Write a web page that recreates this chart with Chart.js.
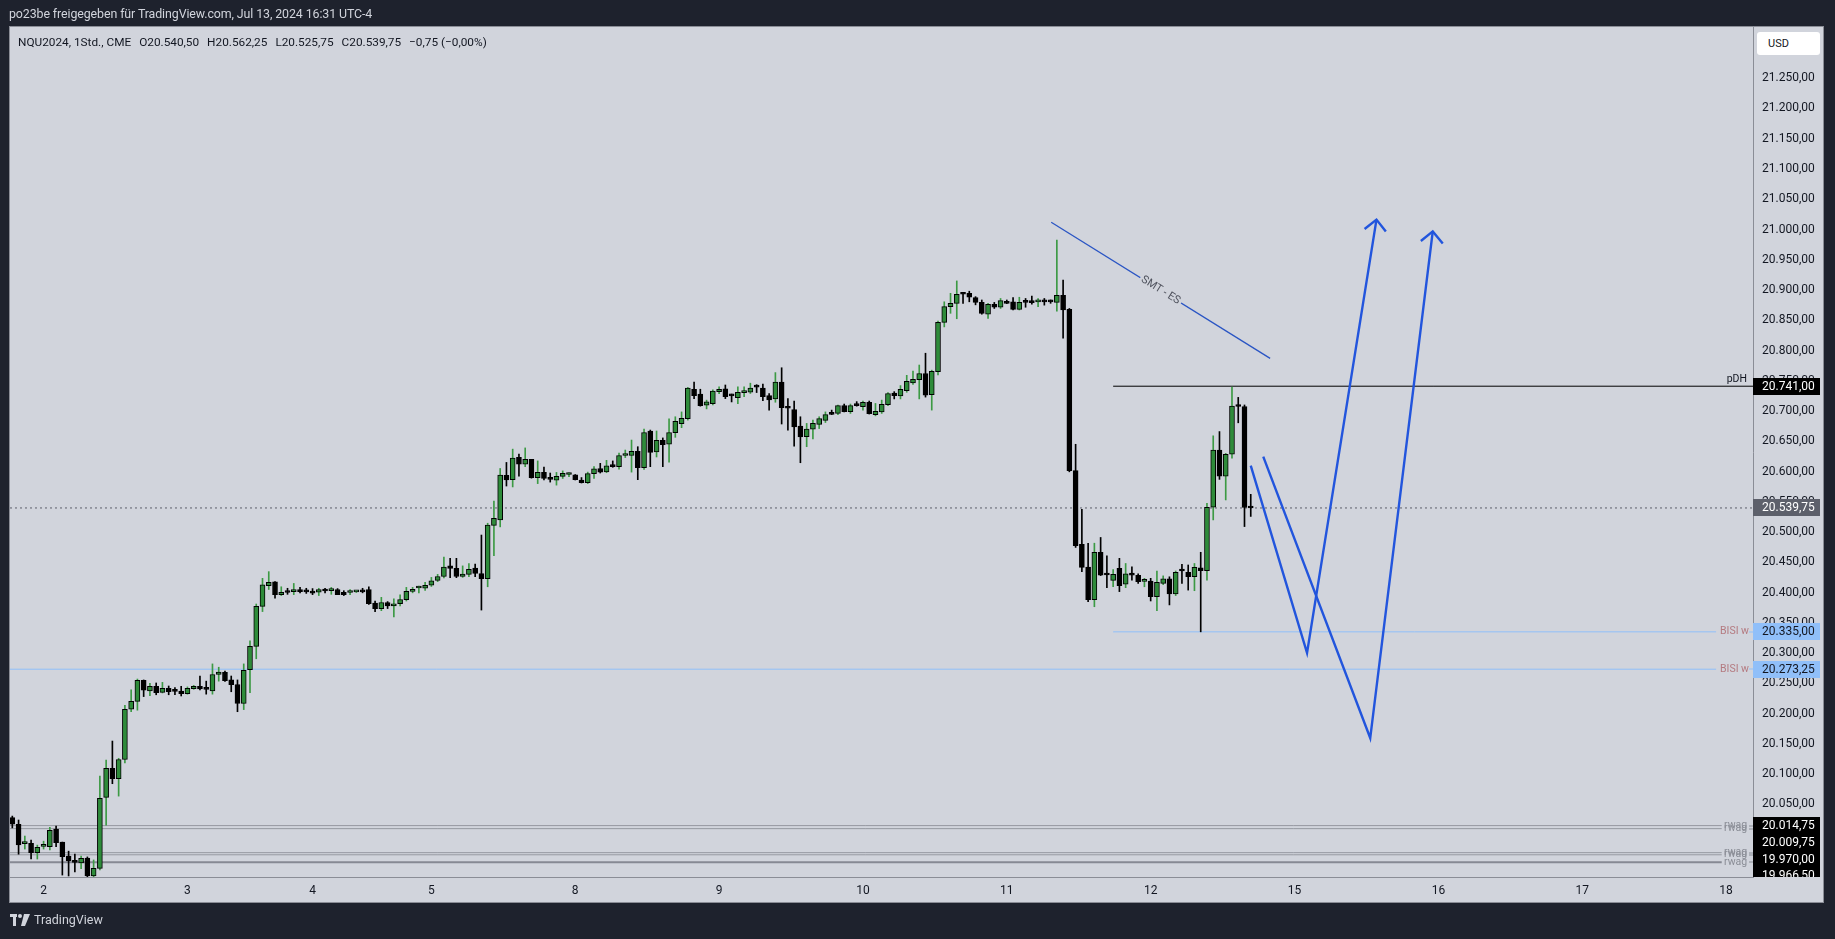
<!DOCTYPE html>
<html>
<head>
<meta charset="utf-8">
<script src="https://cdn.jsdelivr.net/npm/chart.js@4.4.1/dist/chart.umd.min.js"></script>
<style>
  html, body { margin: 0; padding: 0; background: #1e222d; overflow: hidden; }
  #wrap { position: relative; width: 1835px; height: 939px; }
  #chartBox { position: absolute; left: 0; top: 0; width: 1835px; height: 939px; }
  #header { position: absolute; left: 9px; top: 6px; color: #d1d4dc; font: 12.4px Roboto, sans-serif; letter-spacing: -0.1px; }
  #legend { position: absolute; left: 18px; top: 35px; color: #131722; font: 11.8px Roboto, sans-serif; display: flex; gap: 8px; }
  #usd { position: absolute; left: 1757px; top: 32px; width: 63px; height: 23px; background: #fff; border-radius: 3px;
         font: 11px Roboto, sans-serif; color: #131722; line-height: 23px; padding-left: 11px; box-sizing: border-box; }
  #footer { position: absolute; left: 10px; top: 912px; color: #d1d4dc; font: 12.5px Roboto, sans-serif; display: flex; align-items: center; gap: 4px; }
</style>
</head>
<body>
<div id="wrap">
  <div id="chartBox"><canvas id="nqChart"></canvas></div>
  <div id="header">po23be freigegeben für TradingView.com, Jul 13, 2024 16:31 UTC-4</div>
  <div id="legend">
    <span>NQU2024, 1Std., CME</span><span>O20.540,50</span><span>H20.562,25</span><span>L20.525,75</span><span>C20.539,75</span><span>−0,75 (−0,00%)</span>
  </div>
  <div id="usd">USD</div>
  <div id="footer">
    <svg width="20" height="12" viewBox="0 0 20 12"><rect x="0" y="0" width="7" height="3" fill="#d1d4dc"/><rect x="3" y="0" width="3" height="12" fill="#d1d4dc"/><circle cx="10" cy="2" r="2" fill="#d1d4dc"/><path d="M14 0 H20 L15 12 H11 Z" fill="#d1d4dc"/></svg>
    <span>TradingView</span>
  </div>
</div>
<script>
// hourly bars, Jul 1 19:00 .. Jul 12 16:00 (UTC-4)
const opens = [
  20028, 20017, 19985, 19985.5, 19970, 19980.5, 19980, 20009, 19987.5, 19964.5,
  19955, 19953, 19961, 19931.5, 19944, 20061.5, 20109.5, 20092.5, 20124, 20207,
  20220, 20255, 20237.5, 20245, 20235, 20241.5, 20238.5, 20237, 20233, 20241,
  20245, 20241, 20237.5, 20264.5, 20268, 20255.5, 20248, 20216.5, 20272.5, 20311,
  20377, 20411.5, 20417.5, 20396.5, 20401, 20401.5, 20405, 20401.5, 20402.5, 20400.5,
  20405, 20403, 20405, 20400.5, 20400, 20401, 20403.5, 20405, 20382.5, 20373.5,
  20383.5, 20378, 20381.5, 20388, 20402, 20407.5, 20407, 20412, 20420, 20426.5,
  20444, 20440, 20426.5, 20430, 20440.5, 20431.5, 20423, 20511, 20520, 20593.5,
  20586.5, 20623.5, 20612, 20620, 20590, 20598.5, 20588, 20585.5, 20592, 20595,
  20594.5, 20586, 20581.5, 20596.5, 20605, 20599.5, 20610, 20608, 20626.5, 20626.5,
  20633.5, 20606.5, 20667, 20632.5, 20651.5, 20645, 20664, 20679, 20687.5, 20736,
  20728, 20709.5, 20712, 20732, 20736.5, 20726, 20722, 20730.5, 20731, 20740,
  20738, 20725.5, 20720, 20748, 20705.5, 20702.5, 20675, 20657.5, 20670, 20678,
  20684.5, 20696, 20696, 20709, 20699, 20710, 20707, 20714.5, 20694, 20698.5,
  20710.5, 20729.5, 20725, 20733.5, 20746.5, 20752, 20762, 20727, 20765, 20846.5,
  20872.5, 20878, 20894.5, 20894.5, 20887.5, 20879.5, 20860, 20876.5, 20871.5, 20880.5,
  20880.5, 20868, 20880.5, 20882.5, 20880.5, 20881, 20881, 20879.5, 20891, 20868,
  20601.5, 20479.5, 20442, 20388, 20466.5, 20429.5, 20420, 20440, 20414, 20432,
  20428.5, 20418.5, 20419, 20393, 20415, 20422.5, 20397.5, 20436, 20433.5, 20426,
  20441, 20436, 20541, 20635.5, 20592.5, 20628.5, 20708, 20707.5, 20540.5
];
const highs = [
  20030.5, 20024, 19997.5, 19991, 19982.5, 19989, 20012, 20014, 19987.5, 19972.5,
  19967.5, 19964.5, 19963, 19958, 20096.5, 20123, 20154.5, 20126, 20213.5, 20239,
  20257, 20255.5, 20250, 20250.5, 20251.5, 20245.5, 20243, 20245, 20244, 20246.5,
  20262, 20253.5, 20282, 20276.5, 20270, 20262, 20255.5, 20282, 20320, 20381,
  20423.5, 20434.5, 20418, 20409.5, 20407, 20415, 20408.5, 20407, 20406.5, 20407,
  20407, 20408.5, 20406.5, 20403, 20405, 20403, 20407, 20409.5, 20386, 20392,
  20385, 20389.5, 20396, 20408.5, 20408.5, 20410.5, 20417, 20425, 20430, 20458.5,
  20456.5, 20456.5, 20444, 20448, 20447, 20495, 20514.5, 20551, 20605, 20615,
  20637, 20629, 20639, 20620, 20617.5, 20607.5, 20597.5, 20598.5, 20601, 20598,
  20595, 20590, 20599, 20608, 20613.5, 20618.5, 20617.5, 20630.5, 20635.5, 20652,
  20641, 20670, 20668.5, 20667, 20655.5, 20687, 20690.5, 20698.5, 20739, 20748,
  20736, 20718, 20735, 20740, 20743, 20728, 20740, 20740, 20746, 20743.5,
  20744.5, 20729, 20763.5, 20771.5, 20720.5, 20716.5, 20690.5, 20679.5, 20685, 20690.5,
  20698.5, 20701.5, 20710, 20711.5, 20711.5, 20715.5, 20716.5, 20716.5, 20712.5, 20718,
  20730.5, 20732, 20742, 20759, 20766, 20776, 20795.5, 20767.5, 20848.5, 20880.5,
  20894.5, 20915, 20896, 20898, 20889, 20883.5, 20878, 20879.5, 20886, 20883.5,
  20887.5, 20888, 20886, 20890, 20886, 20886, 20883.5, 20982.5, 20916.5, 20869.5,
  20645, 20537.5, 20481.5, 20481.5, 20491, 20460.5, 20438, 20456.5, 20448, 20442.5,
  20431, 20423.5, 20423.5, 20435.5, 20427.5, 20426, 20435.5, 20446.5, 20445.5, 20448,
  20466.5, 20547.5, 20659, 20666, 20630, 20739.5, 20722.5, 20710, 20562.25
];
const lows = [
  20011, 19967.5, 19976, 19959.5, 19959.5, 19976, 19974.5, 19980, 19933, 19931.5,
  19938, 19943.5, 19925, 19925, 19941.5, 20015.5, 20084, 20063.5, 20118.5, 20203,
  20205.5, 20228, 20229.5, 20231, 20234, 20231, 20231, 20229, 20232, 20240,
  20239, 20232, 20232, 20253.5, 20253, 20236, 20203, 20206.5, 20234.5, 20290.5,
  20368.5, 20405, 20390.5, 20395, 20397, 20396.5, 20399.5, 20398.5, 20396.5, 20395,
  20399.5, 20397, 20396.5, 20395, 20396.5, 20400, 20399.5, 20380.5, 20368.5, 20370,
  20373.5, 20359.5, 20378, 20386, 20399.5, 20399.5, 20403.5, 20410, 20418, 20424,
  20424.5, 20424.5, 20425, 20426, 20426, 20371, 20409.5, 20461, 20508.5, 20576,
  20574.5, 20592.5, 20608, 20589, 20580, 20586, 20582.5, 20577.5, 20588.5, 20591.5,
  20586, 20581, 20580, 20588.5, 20597.5, 20598, 20607, 20604, 20623, 20599,
  20586.5, 20603.5, 20608, 20624, 20608, 20615.5, 20656.5, 20672.5, 20685, 20720.5,
  20708, 20703.5, 20710, 20728.5, 20720.5, 20715, 20712, 20723.5, 20729, 20730.5,
  20717, 20701.5, 20714.5, 20678.5, 20668.5, 20642, 20614.5, 20641, 20654, 20671,
  20681, 20694, 20694, 20698.5, 20696, 20708, 20701.5, 20695, 20692, 20696,
  20709, 20720, 20720, 20731, 20744, 20720, 20723, 20701.5, 20759.5, 20839,
  20861.5, 20852.5, 20878, 20880.5, 20875.5, 20860, 20853, 20869.5, 20869.5, 20877.5,
  20867, 20867, 20871.5, 20876.5, 20872.5, 20875, 20878, 20865, 20820.5, 20599.5,
  20474.5, 20434.5, 20385, 20376.5, 20428, 20408, 20409.5, 20401.5, 20408, 20420.5,
  20415, 20409.5, 20386, 20370, 20413, 20379.5, 20395, 20415, 20404, 20403,
  20335, 20420.5, 20520, 20587, 20553, 20622, 20680.5, 20509, 20525.75
];
const closes = [
  20017, 19983, 19986, 19970, 19979, 19981, 20007, 19986.5, 19963.5, 19956.5,
  19954, 19960.5, 19931.5, 19944, 20060, 20109.5, 20092.5, 20124, 20207, 20220,
  20255, 20238.5, 20245, 20234.5, 20241.5, 20236, 20236.5, 20233, 20241.5, 20245,
  20240.5, 20240, 20264.5, 20268.5, 20254.5, 20247.5, 20216.5, 20271.5, 20311, 20377,
  20412.5, 20417, 20396.5, 20400.5, 20400, 20405, 20401.5, 20401, 20399, 20405,
  20402.5, 20403.5, 20396.5, 20396.5, 20400.5, 20401.5, 20401, 20381.5, 20373.5, 20383.5,
  20378, 20381.5, 20388.5, 20402, 20405, 20408, 20412, 20419.5, 20426.5, 20442,
  20440, 20426.5, 20430.5, 20438.5, 20431.5, 20423, 20511.5, 20522.5, 20594, 20586,
  20622, 20612, 20620, 20590, 20598.5, 20588.5, 20587, 20592, 20597, 20595.5,
  20586.5, 20581.5, 20596.5, 20604.5, 20599, 20609.5, 20608, 20626.5, 20627, 20633.5,
  20606.5, 20664.5, 20631.5, 20651.5, 20644.5, 20664.5, 20683, 20688, 20738, 20725.5,
  20709, 20715, 20733, 20736, 20723.5, 20725, 20731, 20731, 20738, 20739.5,
  20723.5, 20718.5, 20748, 20705.5, 20704.5, 20673.5, 20657, 20670, 20679.5, 20687.5,
  20694, 20694.5, 20709, 20699, 20709, 20709, 20714.5, 20695.5, 20699.5, 20711,
  20729, 20725.5, 20736, 20749, 20752.5, 20762, 20726, 20765.5, 20846.5, 20872.5,
  20878, 20893, 20893, 20888, 20879.5, 20861.5, 20876.5, 20871.5, 20882.5, 20878,
  20868, 20879.5, 20879.5, 20879, 20881, 20880.5, 20880.5, 20891, 20867, 20601.5,
  20477.5, 20441.5, 20388, 20466.5, 20428.5, 20429, 20430, 20411.5, 20431, 20428.5,
  20418, 20419, 20393, 20417, 20422.5, 20397.5, 20433.5, 20435.5, 20426, 20441.5,
  20436, 20541, 20635.5, 20592.5, 20628.5, 20708, 20707.5, 20540.5, 20539.75
];

// x axis: bar index of the first bar of each day
const dayTicks = [5, 28, 48, 67, 90, 113, 136, 159, 182, 205, 228, 251, 274];
const dayLabels = ['2', '3', '4', '5', '8', '9', '10', '11', '12', '15', '16', '17', '18'];
const priceTicks = [
  19950, 20000, 20050, 20100, 20150, 20200, 20250, 20300, 20350, 20400,
  20450, 20500, 20550, 20600, 20650, 20700, 20750, 20800, 20850, 20900,
  20950, 21000, 21050, 21100, 21150, 21200, 21250, 21300
];

// drawings: [bar index, price]
const pdhLevel = 20741;
const bisiLevels = [20335, 20273.25];
const bisiStarts = [176, -0.4];
const rwagLevels = [20014.75, 20009.75, 19970, 19966.5, 19954];
const lastPrice = 20539.75;
const smtLine = [[166.1, 21011.9], [201.1, 20787]];
const pathA = [[198, 20609.6], [207, 20300.2], [218.1, 21016.4]];
const headA = [[216.2, 21000.8], [218.1, 21016.4], [219.6, 20996.7]];
const pathB = [[200, 20624.5], [217.1, 20159.5], [227.1, 20996.9]];
const headB = [[225.2, 20981], [227.1, 20996.9], [228.7, 20976.7]];

const X_MIN = -0.37, X_MAX = 278.3;
const LEVEL_END = 272.4;
const GREEN = '#2e8b3a';
const GREEN_WICK = '#3c9a44';
const BLUE = '#2255dd';
const BG = '#d1d4dc';

function fmtPrice(v) {
  const parts = Number(v).toFixed(2).split('.');
  return parts[0].replace(/\B(?=(\d{3})+(?!\d))/g, '.') + ',' + parts[1];
}

const isUp = i => closes[i] >= opens[i];
const pts = arr => arr.map(([x, y]) => ({ x, y }));
const hline = (y, x0, x1) => [{ x: x0, y }, { x: x1, y }];

function lineSet(data, color, width, order, dash) {
  return {
    type: 'line', data, borderColor: color, borderWidth: width, borderDash: dash || [],
    pointRadius: 0, fill: false, tension: 0, order, clip: 0
  };
}

const datasets = [
  {
    label: 'wick',
    data: opens.map((_, i) => ({ x: i, y: [lows[i], highs[i]] })),
    backgroundColor: ctx => isUp(ctx.dataIndex) ? GREEN_WICK : '#000',
    borderWidth: 0, grouped: false, barThickness: 1, maxBarThickness: 1, order: 1, clip: 0
  },
  {
    label: 'body',
    data: opens.map((_, i) => ({ x: i, y: [opens[i], closes[i]] })),
    backgroundColor: ctx => isUp(ctx.dataIndex) ? GREEN : '#000',
    borderColor: '#000', borderWidth: 1, borderSkipped: false, minBarLength: 2,
    grouped: false, barThickness: 5, maxBarThickness: 5, order: 0, clip: 0
  },
  lineSet(hline(lastPrice, X_MIN, X_MAX), '#5d606b', 1, 5, [2, 3]),
  lineSet(hline(pdhLevel, 176, X_MAX), '#000', 1, 4),
  lineSet(hline(bisiLevels[0], bisiStarts[0], LEVEL_END), '#90bff9', 1, 4),
  lineSet(hline(bisiLevels[1], bisiStarts[1], LEVEL_END), '#90bff9', 1, 4),
  ...rwagLevels.map((v, k) => lineSet(hline(v, X_MIN, 273.3), k === 4 ? '#868993' : '#9598a1', k === 4 ? 2 : 1, 4)),
  lineSet(pts(smtLine), '#2a55c4', 1.3, -1),
  lineSet(pts(pathA), BLUE, 2.4, -2),
  lineSet(pts(headA), BLUE, 2.4, -2),
  lineSet(pts(pathB), BLUE, 2.4, -2),
  lineSet(pts(headB), BLUE, 2.4, -2)
];

function priceBox(ctx, y, text, bg, fg) {
  ctx.fillStyle = bg;
  ctx.fillRect(1753, Math.round(y - 8.5), 67, 17);
  ctx.fillStyle = fg;
  ctx.font = '12px Roboto, sans-serif';
  ctx.textAlign = 'left';
  ctx.textBaseline = 'middle';
  ctx.fillText(text, 1762, y + 0.5);
}

const overlayPlugin = {
  id: 'overlay',
  beforeDraw(chart) {
    const ctx = chart.ctx;
    ctx.save();
    ctx.fillStyle = BG;
    ctx.fillRect(9, 26, 1815, 877);
    ctx.strokeStyle = '#8a8d96';
    ctx.lineWidth = 1;
    ctx.strokeRect(9.5, 26.5, 1814, 876);
    ctx.restore();
  },
  afterDatasetsDraw(chart) {
    const ctx = chart.ctx;
    const xs = chart.scales.x, ys = chart.scales.y;
    ctx.save();
    // pDH label
    ctx.font = '10.5px Roboto, sans-serif';
    ctx.fillStyle = '#131722';
    ctx.textAlign = 'right';
    ctx.textBaseline = 'bottom';
    ctx.fillText('pDH', 1747, ys.getPixelForValue(pdhLevel) - 2);
    // BISI labels
    ctx.textBaseline = 'middle';
    ctx.textAlign = 'left';
    bisiLevels.forEach(v => {
      const y = ys.getPixelForValue(v);
      ctx.fillStyle = '#b47a80';
      ctx.fillText('BISI w', 1720, y);
      ctx.fillStyle = '#90bff9';
      ctx.fillRect(1749, Math.round(y) - 0.5, 4, 1);
    });
    // rwag labels
    rwagLevels.forEach(v => {
      const y = ys.getPixelForValue(v);
      ctx.fillStyle = '#8a8d96';
      ctx.fillText('rwag', 1724, y);
      ctx.fillRect(1749, Math.round(y) - 0.5, 4, 1);
    });
    // SMT - ES text along the trend line
    const x1 = xs.getPixelForValue(smtLine[0][0]), y1 = ys.getPixelForValue(smtLine[0][1]);
    const x2 = xs.getPixelForValue(smtLine[1][0]), y2 = ys.getPixelForValue(smtLine[1][1]);
    const mx = x1 + (x2 - x1) * 0.5, my = y1 + (y2 - y1) * 0.5;
    ctx.translate(mx, my);
    ctx.rotate(Math.atan2(y2 - y1, x2 - x1));
    ctx.fillStyle = BG;
    ctx.fillRect(-24, -6, 48, 12);
    ctx.fillStyle = '#50535e';
    ctx.font = '11px Roboto, sans-serif';
    ctx.textAlign = 'center';
    ctx.fillText('SMT - ES', 0, 0);
    ctx.restore();
  },
  afterDraw(chart) {
    const ctx = chart.ctx;
    const ys = chart.scales.y;
    const area = chart.chartArea;
    ctx.save();
    // price labels stay inside the price axis band
    ctx.beginPath();
    ctx.rect(area.right, area.top, 75, area.bottom - area.top);
    ctx.clip();
    priceBox(ctx, ys.getPixelForValue(pdhLevel), fmtPrice(pdhLevel), '#000', '#fff');
    priceBox(ctx, ys.getPixelForValue(lastPrice), fmtPrice(lastPrice), '#5d606b', '#fff');
    bisiLevels.forEach(v => priceBox(ctx, ys.getPixelForValue(v), fmtPrice(v), '#90bff9', '#131722'));
    // stacked labels for the low levels, pushed apart like the original
    let prev = -Infinity;
    rwagLevels.slice(0, 4).forEach(v => {
      const y = Math.max(ys.getPixelForValue(v), prev + 16.7);
      prev = y;
      priceBox(ctx, y, fmtPrice(v), '#000', '#fff');
    });
    ctx.restore();
  }
};

new Chart(document.getElementById('nqChart'), {
  type: 'bar',
  data: { datasets },
  options: {
    responsive: true,
    maintainAspectRatio: false,
    animation: false,
    layout: { padding: { left: 10, top: 27, right: 11, bottom: 36 } },
    plugins: { legend: { display: false }, tooltip: { enabled: false } },
    scales: {
      x: {
        type: 'linear', min: X_MIN, max: X_MAX, offset: false,
        afterBuildTicks: s => { s.ticks = dayTicks.map(v => ({ value: v })); },
        afterFit: s => { s.height = 26; },
        grid: { display: false, drawTicks: false },
        border: { display: true, color: '#8a8d96' },
        ticks: {
          autoSkip: false, maxRotation: 0, padding: 7, color: '#131722',
          font: { family: 'Roboto', size: 12 },
          callback: v => { const k = dayTicks.indexOf(v); return k >= 0 ? dayLabels[k] : ''; }
        }
      },
      y: {
        type: 'linear', position: 'right', min: 19929.8, max: 21334.7,
        afterBuildTicks: s => { s.ticks = priceTicks.map(v => ({ value: v })); },
        afterFit: s => { s.width = 71; },
        grid: { display: false, drawTicks: false },
        border: { display: true, color: '#8a8d96' },
        ticks: {
          padding: 9, color: '#131722',
          font: { family: 'Roboto', size: 12 },
          callback: v => fmtPrice(v)
        }
      }
    }
  },
  plugins: [overlayPlugin]
});
</script>
</body>
</html>
